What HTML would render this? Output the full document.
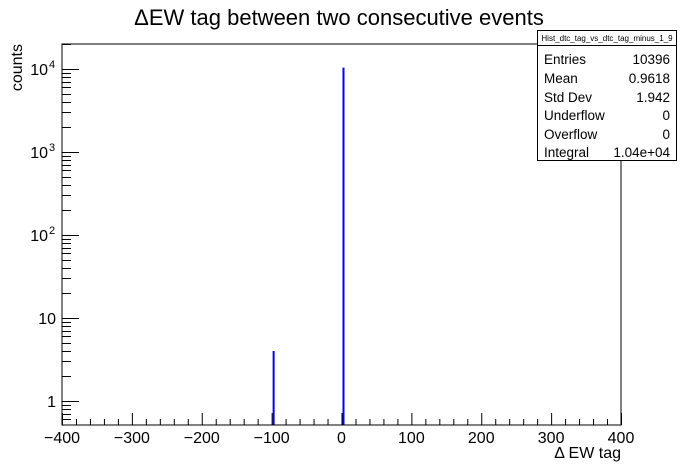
<!DOCTYPE html>
<html><head><meta charset="utf-8"><style>
body{margin:0;background:#fff;font-family:"Liberation Sans",sans-serif}
</style></head><body>
<svg id="c" width="683" height="469" xmlns="http://www.w3.org/2000/svg" font-family="Liberation Sans, sans-serif">
<rect width="683" height="469" fill="#fff"/>
<text x="339" y="25" font-size="22" text-anchor="middle">ΔEW tag between two consecutive events</text>
<text transform="translate(22,44) rotate(-90)" font-size="16" text-anchor="end">counts</text>
<text x="621" y="458" font-size="16" text-anchor="end">Δ EW tag</text>
<g id="bars"></g>
<rect x="62" y="44" width="559" height="381" fill="none" stroke="#000" stroke-width="1"/>
<g id="ax" stroke="#000" stroke-width="1"></g>
<g id="lbl" font-size="16"></g>
<g>
<rect x="537.5" y="30.5" width="139" height="130" fill="#fff" stroke="#000"/>
<line x1="537.5" y1="45.5" x2="676.5" y2="45.5" stroke="#000"/>
<text x="607" y="41" font-size="8" text-anchor="middle">Hist_dtc_tag_vs_dtc_tag_minus_1_9</text>
<g font-size="13.5">
<text x="544" y="64">Entries</text><text x="670" y="64" text-anchor="end">10396</text>
<text x="544" y="83">Mean</text><text x="670" y="83" text-anchor="end">0.9618</text>
<text x="544" y="102">Std Dev</text><text x="670" y="102" text-anchor="end">1.942</text>
<text x="544" y="120">Underflow</text><text x="670" y="120" text-anchor="end">0</text>
<text x="544" y="139">Overflow</text><text x="670" y="139" text-anchor="end">0</text>
<text x="544" y="157">Integral</text><text x="670" y="157" text-anchor="end">1.04e+04</text>
</g></g>
</svg>
<script>
const binCenters=[-100,0];
const binCounts=[4,10392];
const xTicks=[-400,-300,-200,-100,0,100,200,300,400];
const xTickLabels=["−400","−300","−200","−100","0","100","200","300","400"];
const yDecades=[1,10,100,1000,10000];
const yTickExp=["","","2","3","4"];
const NS="http://www.w3.org/2000/svg";
const X0=62,X1=621,YB=425,YT=44;
function xs(v){return X0+(v+400)/800*(X1-X0);}
function ys(v){return 401-Math.log10(v)*83;}
function mk(t,a,p){const e=document.createElementNS(NS,t);for(const k in a)e.setAttribute(k,a[k]);p.appendChild(e);return e;}
const bars=document.getElementById('bars'),ax=document.getElementById('ax'),lbl=document.getElementById('lbl');
binCenters.forEach((c,i)=>{
 const b=mk('line',{x1:xs(c)+2,x2:xs(c)+2,y1:YB,y2:Math.max(YT,ys(binCounts[i])),stroke:'#0000ff','stroke-width':2},bars);
 
 
});
for(let v=-400;v<=400;v+=20){const maj=v%100===0;mk('line',{x1:xs(v)+.5,x2:xs(v)+.5,y1:YB,y2:YB-(maj?12:6)},ax);}
xTicks.forEach((v,i)=>{const t=mk('text',{x:xs(v),y:443,'text-anchor':'middle'},lbl);t.textContent=xTickLabels[i];
 
 });
for(let d=0;d<=4;d++){for(let m=1;m<=9;m++){const v=m*Math.pow(10,d);const y=Math.round(ys(v))+.5;if(y<YT||y>YB)continue;mk('line',{x1:X0,x2:X0+(m===1?17:9),y1:y,y2:y},ax);}}
for(const m of [6,7,8,9]){const y=Math.round(ys(m/10))+.5;if(y<=YB)mk('line',{x1:X0,x2:X0+9,y1:y,y2:y},ax);}
yDecades.forEach((v,i)=>{
 const e=yTickExp[i];
 const t=mk('text',{x:e?48:56,y:ys(v)+6,'text-anchor':'end'},lbl);
 t.textContent=e?'10':String(v);
 
 
 if(e){const s=mk('text',{x:49,y:ys(v)-1,'font-size':11},lbl);s.textContent=e;
  
  }
});
</script>
</body></html>
